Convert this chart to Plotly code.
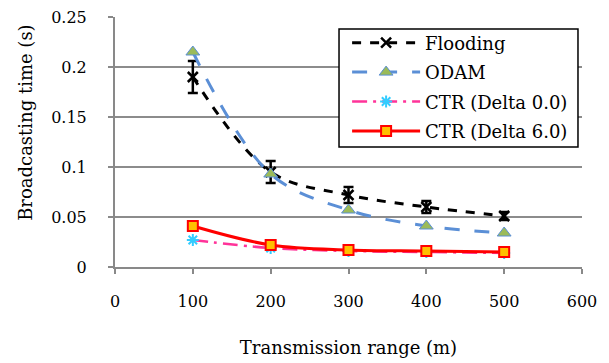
import plotly.graph_objects as go

x_range = [100, 200, 300, 400, 500]
flooding = [0.190, 0.095, 0.072, 0.060, 0.051]
flooding_err = [0.016, 0.011, 0.008, 0.006, 0.004]
odam = [0.215, 0.093, 0.057, 0.041, 0.034]
ctr_d0 = [0.027, 0.019, 0.016, 0.015, 0.014]
ctr_d6 = [0.041, 0.022, 0.017, 0.016, 0.015]

x_ticks = [0, 100, 200, 300, 400, 500, 600]
y_ticks = [0, 0.05, 0.1, 0.15, 0.2, 0.25]
y_tick_labels = ["0", "0.05", "0.1", "0.15", "0.2", "0.25"]

FONT = "DejaVu Serif"

fig = go.Figure()
fig.add_trace(go.Scatter(
    x=x_range, y=flooding, name="Flooding", mode="lines+markers", legendgroup="a",
    line=dict(color="black", width=3, dash="dash", shape="spline"),
    marker=dict(symbol="x-thin", size=10, line=dict(color="black", width=2.5)),
    error_y=dict(type="data", array=flooding_err, color="black", thickness=2.5, width=5),
))
fig.add_trace(go.Scatter(
    x=x_range, y=odam, name="ODAM", mode="lines+markers", legendgroup="b",
    line=dict(color="#5B8FD6", width=3, dash="longdash", shape="spline"),
    marker=dict(symbol="triangle-up", size=12, color="#9BBB59", line=dict(color="#5B8FD6", width=1)),
))
fig.add_trace(go.Scatter(
    x=x_range, y=ctr_d0, name="CTR (Delta 0.0)", mode="lines+markers", legendgroup="c",
    line=dict(color="#FF3399", width=2.5, dash="longdashdot", shape="spline"),
    marker=dict(symbol="asterisk", size=10, color="#33CCFF", line=dict(color="#33CCFF", width=2)),
))
fig.add_trace(go.Scatter(
    x=x_range, y=ctr_d6, name="CTR (Delta 6.0)", mode="lines+markers", legendgroup="d",
    line=dict(color="#FF0000", width=3, shape="spline"),
    marker=dict(symbol="square", size=10, color="#FFC000", line=dict(color="#FF0000", width=2)),
))

fig.update_layout(
    width=609, height=363,
    margin=dict(l=115, r=27, t=17, b=96),
    paper_bgcolor="white", plot_bgcolor="white",
    font=dict(family=FONT, size=16, color="black"),
    showlegend=True,
    legend=dict(
        x=0.497, y=0.97, xanchor="left", yanchor="top",
        bgcolor="rgba(0,0,0,0)", borderwidth=0,
        font=dict(family=FONT, size=18, color="black"),
        itemwidth=68, tracegroupgap=3,
    ),
    shapes=[dict(
        type="rect", xref="paper", yref="paper",
        x0=0.4797, x1=0.9914, y0=0.48, y1=0.952,
        line=dict(color="black", width=1.5), fillcolor="white", layer="above",
    )],
    xaxis=dict(
        range=[0, 600], tickvals=x_ticks, showgrid=False, zeroline=False,
        showline=True, linecolor="#898989", linewidth=2,
        ticks="outside", ticklen=5, tickcolor="#898989", tickwidth=1.5,
        ticklabelstandoff=14, automargin=False,
        title=dict(text="Transmission range (m)", standoff=31, font=dict(size=18, family=FONT)),
    ),
    yaxis=dict(
        range=[0, 0.25], tickvals=y_ticks, ticktext=y_tick_labels,
        showgrid=True, gridcolor="#8c8c8c", gridwidth=1.5, zeroline=False,
        showline=True, linecolor="#898989", linewidth=2,
        ticks="outside", ticklen=5, tickcolor="#898989", tickwidth=1.5,
        ticklabelstandoff=18, automargin=False,
    ),
    annotations=[dict(
        text="Broadcasting time (s)", xref="paper", yref="paper",
        x=-0.193, y=0.58, xanchor="center", yanchor="middle", textangle=-90,
        showarrow=False, font=dict(size=18, family=FONT),
    )],
)

fig.write_html("out.html", config={"displayModeBar": False},
               post_script="document.body.style.margin='0';")
